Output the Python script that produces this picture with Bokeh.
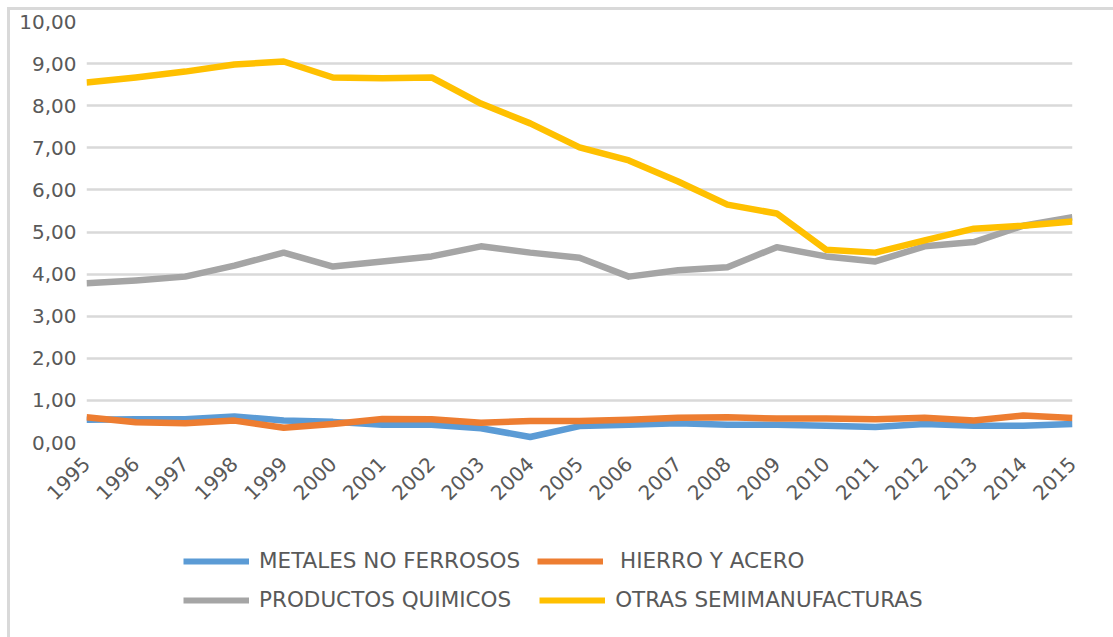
from bokeh.plotting import figure
from bokeh.layouts import column
from bokeh.models import (Range1d, FixedTicker, CustomJSTickFormatter, Legend, LegendItem)
from bokeh.embed import file_html
from bokeh.resources import INLINE
import math

years = [1995, 1996, 1997, 1998, 1999, 2000, 2001, 2002, 2003, 2004, 2005,
         2006, 2007, 2008, 2009, 2010, 2011, 2012, 2013, 2014, 2015]
metales = [0.54, 0.55, 0.55, 0.62, 0.52, 0.49, 0.42, 0.42, 0.34, 0.13, 0.39,
           0.42, 0.46, 0.42, 0.42, 0.40, 0.37, 0.44, 0.40, 0.40, 0.44]
hierro = [0.60, 0.48, 0.46, 0.52, 0.35, 0.44, 0.56, 0.55, 0.47, 0.51, 0.51,
          0.54, 0.59, 0.60, 0.57, 0.57, 0.55, 0.59, 0.52, 0.64, 0.58]
quimicos = [3.78, 3.85, 3.94, 4.20, 4.51, 4.18, 4.30, 4.42, 4.66, 4.51, 4.39,
            3.94, 4.09, 4.16, 4.64, 4.42, 4.30, 4.66, 4.76, 5.15, 5.35]
otras = [8.55, 8.67, 8.81, 8.98, 9.05, 8.67, 8.65, 8.67, 8.05, 7.58, 7.01,
         6.70, 6.20, 5.65, 5.44, 4.58, 4.51, 4.80, 5.08, 5.15, 5.25]
series_names = ["METALES NO FERROSOS", "\u00a0HIERRO Y ACERO", "PRODUCTOS QUIMICOS", "OTRAS SEMIMANUFACTURAS"]
series_colors = ["#5B9BD5", "#ED7D31", "#A5A5A5", "#FFC000"]
y_ticks = [0, 1, 2, 3, 4, 5, 6, 7, 8, 9, 10]

FONT = "DejaVu Sans"
TXT = "#595959"
W = 1103

p = figure(width=W, height=532, output_backend="svg", toolbar_location=None,
           x_range=Range1d(years[0], years[-1]), y_range=Range1d(0, 10),
           min_border_left=76, min_border_right=41, min_border_top=11, min_border_bottom=100)
p.outline_line_color = None
p.background_fill_color = "white"
p.border_fill_color = "white"

p.xgrid.grid_line_color = None
p.ygrid.grid_line_color = "#D9D9D9"
p.ygrid.grid_line_width = 2.5
p.ygrid.ticker = FixedTicker(ticks=y_ticks)

p.yaxis.ticker = FixedTicker(ticks=y_ticks)
p.yaxis.formatter = CustomJSTickFormatter(code="return tick.toFixed(2).replace('.', ',');")
p.xaxis.ticker = FixedTicker(ticks=years)
p.xaxis.major_label_overrides = {y: str(y) for y in years}
p.xaxis.major_label_orientation = math.pi / 4
for ax in (p.xaxis, p.yaxis):
    ax.axis_line_color = None
    ax.major_tick_line_color = None
    ax.minor_tick_line_color = None
    ax.major_label_text_font = FONT
    ax.major_label_text_color = TXT
p.yaxis.major_label_text_font_size = "20px"
p.xaxis.major_label_text_font_size = "20px"
p.yaxis.major_label_standoff = 4
p.xaxis.major_label_standoff = 12

data = [metales, hierro, quimicos, otras]
for vals, col in zip(data, series_colors):
    p.line(years, vals, line_color=col, line_width=6.5, line_join="round")

# legend strip: same series, outside this strip's visible range, so only the keys show
q = figure(width=W, height=95, output_backend="svg", toolbar_location=None,
           x_range=Range1d(0, 1), y_range=Range1d(0, 1),
           min_border_left=0, min_border_right=0, min_border_top=0, min_border_bottom=0)
q.axis.visible = False
q.grid.visible = False
q.outline_line_color = None
q.border_fill_color = "white"
keys = [q.line(years, vals, line_color=col, line_width=6)
        for vals, col in zip(data, series_colors)]

rows = [(0, 1, 17, 64), (2, 3, 28, 25)]
for i0, i1, sp, vy in rows:
    lg = Legend(items=[LegendItem(label=series_names[i0], renderers=[keys[i0]]),
                       LegendItem(label=series_names[i1], renderers=[keys[i1]])],
                location=(97, vy), orientation="horizontal", padding=0, margin=0,
                spacing=sp, glyph_width=66, glyph_height=20, label_height=20,
                label_standoff=10, label_text_font=FONT, label_text_font_size="21.5px",
                label_text_color=TXT, border_line_color=None,
                background_fill_alpha=0)
    q.add_layout(lg, "center")

layout = column(p, q, spacing=0,
                styles={"margin-left": "7px", "margin-top": "7px",
                        "border-left": "3px solid #D9D9D9", "border-top": "3px solid #D9D9D9"})

open("out.html", "w").write(file_html(layout, INLINE))
